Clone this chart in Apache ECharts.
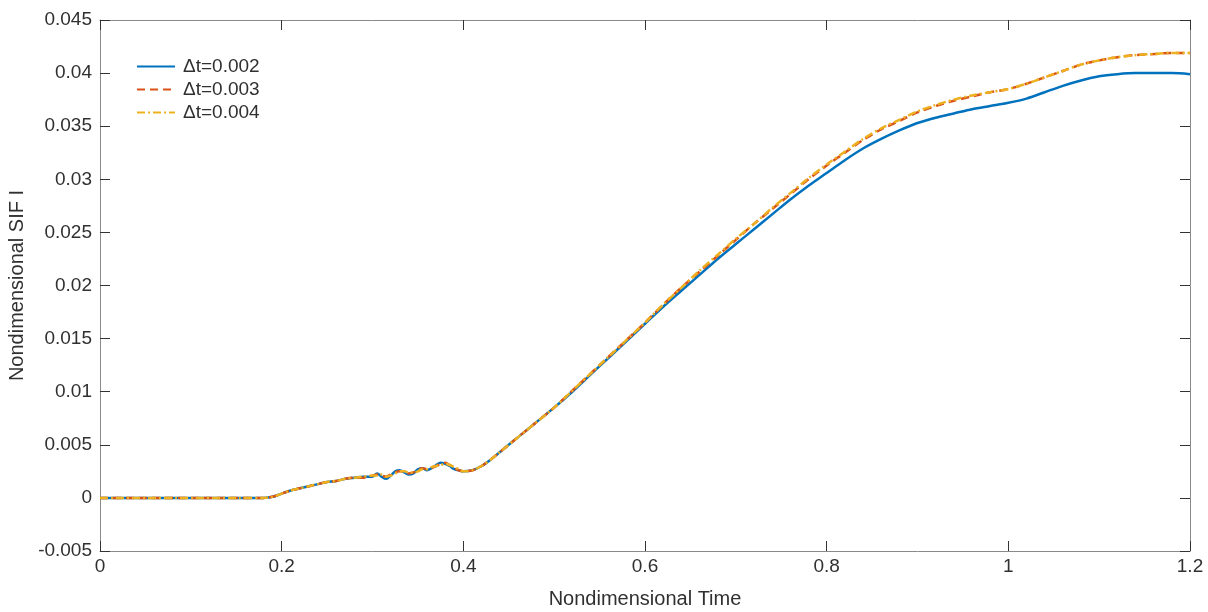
<!DOCTYPE html>
<html>
<head>
<meta charset="utf-8">
<script src="https://cdn.jsdelivr.net/npm/echarts@6/dist/echarts.min.js"></script>
<style>
  html, body { margin: 0; padding: 0; background: #fff; }
  #main { width: 1208px; height: 612px; }
</style>
</head>
<body>
<div id="main"></div>
<script>
// time samples shared by the three curves
var time = [0, 0.05, 0.1, 0.15, 0.18, 0.19, 0.2, 0.21, 0.22, 0.23, 0.24, 0.25, 0.26, 0.27, 0.28, 0.29,
  0.3, 0.305, 0.31, 0.315, 0.32, 0.325, 0.33, 0.335, 0.34, 0.345, 0.35, 0.355, 0.36, 0.365, 0.37, 0.375,
  0.38, 0.385, 0.39, 0.395, 0.4, 0.41, 0.42, 0.43, 0.44, 0.45, 0.46, 0.47, 0.48, 0.5, 0.52, 0.54, 0.56,
  0.58, 0.6, 0.62, 0.64, 0.66, 0.68, 0.7, 0.72, 0.74, 0.76, 0.78, 0.8, 0.82, 0.84, 0.86, 0.88, 0.9,
  0.92, 0.94, 0.96, 0.98, 1.0, 1.02, 1.04, 1.06, 1.08, 1.1, 1.12, 1.14, 1.16, 1.18, 1.2];

// dt = 0.002
var sif002 = [0, 0, 0, 0, 0, 0.0001, 0.0004, 0.0007, 0.0009, 0.0011, 0.0013, 0.0015, 0.0016, 0.0018, 0.0019, 0.002,
  0.002, 0.0023, 0.002, 0.0018, 0.0021, 0.0025, 0.0026, 0.0024, 0.0022, 0.0023, 0.0027, 0.0028, 0.0026, 0.0028, 0.0031, 0.0033,
  0.0032, 0.003, 0.0027, 0.0026, 0.0025, 0.0026, 0.003, 0.0036, 0.0043, 0.005, 0.0057, 0.0064, 0.0071, 0.0085, 0.01, 0.0116, 0.0132,
  0.0148, 0.0164, 0.018, 0.0195, 0.021, 0.0225, 0.0239, 0.0253, 0.0267, 0.0281, 0.0294, 0.0306, 0.0318, 0.0329, 0.0338, 0.0346, 0.0353,
  0.0358, 0.0362, 0.0366, 0.0369, 0.0372, 0.0376, 0.0382, 0.0388, 0.0393, 0.0397, 0.0399, 0.04, 0.04, 0.04, 0.0399];

// dt = 0.003
var sif003 = [0, 0, 0, 0, 0, 0.0001, 0.0004, 0.0007, 0.0009, 0.0011, 0.0013, 0.0015, 0.0016, 0.0018, 0.0019, 0.0019,
  0.0021, 0.0022, 0.0021, 0.002, 0.0022, 0.0024, 0.0025, 0.0025, 0.0023, 0.0024, 0.0026, 0.0028, 0.0027, 0.0028, 0.003, 0.0032,
  0.0033, 0.0031, 0.0028, 0.0026, 0.0025, 0.0026, 0.003, 0.0036, 0.0043, 0.005, 0.0057, 0.0064, 0.0071, 0.0085, 0.0101, 0.0117, 0.0133,
  0.0149, 0.0165, 0.0182, 0.0198, 0.0213, 0.0228, 0.0243, 0.0258, 0.0272, 0.0286, 0.03, 0.0313, 0.0325, 0.0337, 0.0347, 0.0355, 0.0363,
  0.0369, 0.0374, 0.0378, 0.0382, 0.0385, 0.039, 0.0396, 0.0402, 0.0408, 0.0412, 0.0415, 0.0417, 0.0418, 0.0419, 0.0419];

// dt = 0.004
var sif004 = [0, 0, 0, 0, 0, 0.0001, 0.0004, 0.0007, 0.0009, 0.0011, 0.0013, 0.0015, 0.0016, 0.0018, 0.0019, 0.002,
  0.0021, 0.0021, 0.0022, 0.002, 0.0021, 0.0023, 0.0025, 0.0025, 0.0024, 0.0024, 0.0025, 0.0027, 0.0027, 0.0029, 0.003, 0.0031,
  0.0032, 0.0031, 0.0029, 0.0027, 0.0025, 0.0026, 0.003, 0.0036, 0.0043, 0.005, 0.0057, 0.0064, 0.0071, 0.0085, 0.0101, 0.0117, 0.0133,
  0.0149, 0.0165, 0.0182, 0.0198, 0.0214, 0.0229, 0.0244, 0.0258, 0.0273, 0.0287, 0.0301, 0.0314, 0.0326, 0.0338, 0.0348, 0.0356, 0.0364,
  0.037, 0.0375, 0.0379, 0.0382, 0.0385, 0.039, 0.0396, 0.0402, 0.0408, 0.0412, 0.0415, 0.0417, 0.0418, 0.0419, 0.0419];

var legendNames = ['\u0394t=0.002', '\u0394t=0.003', '\u0394t=0.004'];

function pairs(ys) {
  return time.map(function (t, i) { return [t, ys[i]]; });
}

var chart = echarts.init(document.getElementById('main'));
var textColor = '#303030';
var boxColor = '#8a8a8a';
var font = 'Liberation Sans, Arial, sans-serif';

var option = {
  animation: false,
  grid: { left: 100, right: 18, top: 20, bottom: 61, outerBoundsMode: 'none' },
  legend: {
    orient: 'vertical',
    left: 131,
    top: 52,
    itemWidth: 38,
    itemHeight: 12,
    itemGap: 4,
    data: legendNames,
    itemStyle: { opacity: 0 },
    textStyle: { fontFamily: font, fontSize: 19, color: textColor, padding: [0, 0, 0, 3] }
  },
  xAxis: [{
    type: 'value', min: 0, max: 1.2, interval: 0.2,
    name: 'Nondimensional Time', nameLocation: 'middle', nameGap: 38,
    nameTextStyle: { fontFamily: font, fontSize: 20, color: textColor },
    axisLine: { onZero: false, lineStyle: { color: boxColor, width: 1 } },
    axisTick: { inside: true, length: 10, lineStyle: { color: '#333' } },
    axisLabel: { fontFamily: font, fontSize: 19, color: textColor, margin: 6 },
    splitLine: { show: false }
  }, {
    type: 'value', min: 0, max: 1.2, interval: 0.2, position: 'top',
    axisLine: { show: true, onZero: false, lineStyle: { color: boxColor, width: 1 } },
    axisTick: { inside: true, length: 10, lineStyle: { color: '#333' } },
    axisLabel: { show: false },
    splitLine: { show: false }
  }],
  yAxis: [{
    type: 'value', min: -0.005, max: 0.045, interval: 0.005,
    name: 'Nondimensional SIF I', nameLocation: 'middle', nameGap: 68,
    nameTextStyle: { fontFamily: font, fontSize: 20, color: textColor },
    axisLine: { show: true, onZero: false, lineStyle: { color: boxColor, width: 1 } },
    axisTick: { show: true, inside: true, length: 10, lineStyle: { color: '#333' } },
    axisLabel: {
      fontFamily: font, fontSize: 19, color: textColor, margin: 8,
      formatter: function (v) { return String(parseFloat(v.toFixed(3))); }
    },
    splitLine: { show: false }
  }, {
    type: 'value', min: -0.005, max: 0.045, interval: 0.005, position: 'right',
    axisLine: { show: true, onZero: false, lineStyle: { color: boxColor, width: 1 } },
    axisTick: { show: true, inside: true, length: 10, lineStyle: { color: '#333' } },
    axisLabel: { show: false },
    splitLine: { show: false }
  }],
  series: [{
    name: legendNames[0], type: 'line', symbol: 'none', smooth: 0.3,
    lineStyle: { color: '#0072BD', width: 2.5, type: 'solid' },
    itemStyle: { color: '#0072BD' },
    data: pairs(sif002)
  }, {
    name: legendNames[1], type: 'line', symbol: 'none', smooth: 0.3,
    lineStyle: { color: '#D95319', width: 2.5, type: [8, 5] },
    itemStyle: { color: '#D95319' },
    data: pairs(sif003)
  }, {
    name: legendNames[2], type: 'line', symbol: 'none', smooth: 0.3,
    lineStyle: { color: '#EDB120', width: 2.5, type: [8, 3, 2, 3] },
    itemStyle: { color: '#EDB120' },
    data: pairs(sif004)
  }]
};

chart.setOption(option);
</script>
</body>
</html>
